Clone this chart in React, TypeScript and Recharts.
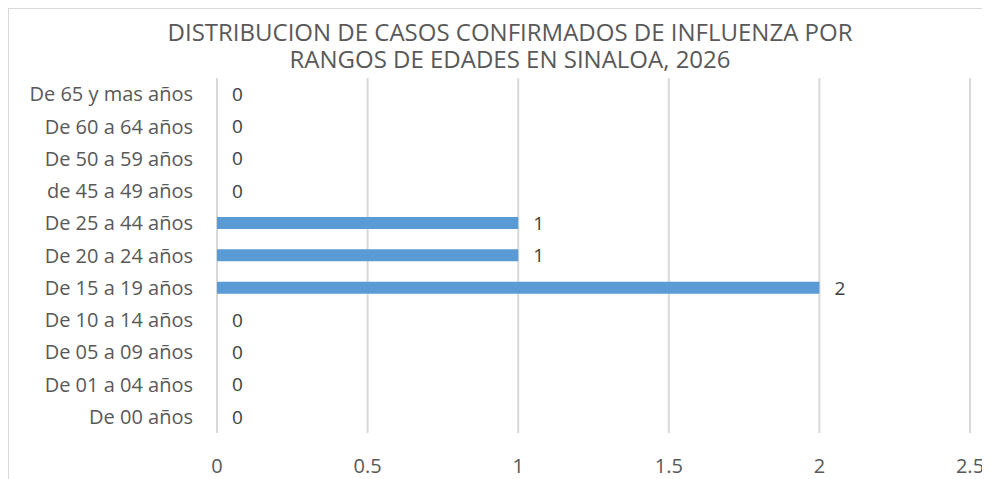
import { ComposedChart, Bar, Line, XAxis, YAxis, CartesianGrid, LabelList } from 'recharts';

const CATEGORIES = [
  'De 65 y mas años',
  'De 60 a 64 años',
  'De 50 a 59 años',
  'de 45 a 49 años',
  'De 25 a 44 años',
  'De 20 a 24 años',
  'De 15 a 19 años',
  'De 10 a 14 años',
  'De 05 a 09 años',
  'De 01 a 04 años',
  'De 00 años',
];

const CASES = [0, 0, 0, 0, 1, 1, 2, 0, 0, 0, 0];

const X_TICKS = [0, 0.5, 1, 1.5, 2, 2.5];

const TITLE_LINES = [
  'DISTRIBUCION DE CASOS CONFIRMADOS DE INFLUENZA POR',
  'RANGOS DE EDADES EN SINALOA, 2026',
];

const FONT = '"Open Sans", "Noto Sans", sans-serif';

export default function App() {
  const data = CATEGORIES.map((c, i) => ({ name: c, value: CASES[i] }));

  return (
    <div style={{ width: 982, height: 471, overflow: 'hidden', position: 'relative', fontFamily: FONT }}>
      <div
        style={{
          position: 'absolute',
          left: 0,
          top: 0,
          width: 1000,
          height: 500,
          border: '1px solid #d9d9d9',
          background: '#fff',
        }}
      />
      <div
        style={{
          position: 'absolute',
          left: 0,
          top: 10,
          width: 1004,
          textAlign: 'center',
          color: '#595959',
          fontSize: 24,
          lineHeight: '27px',
          whiteSpace: 'nowrap',
        }}
      >
        {TITLE_LINES.map((t) => (
          <div key={t}>{t}</div>
        ))}
      </div>
      <div style={{ position: 'absolute', left: 0, top: 0 }}>
        <ComposedChart
          width={982}
          height={471}
          data={data}
          layout="vertical"
          margin={{ top: 70, right: 20, left: 0, bottom: 16 }}
        >
          <CartesianGrid horizontal={false} stroke="#d9d9d9" strokeWidth={2} />
          <XAxis
            type="number"
            domain={[0, 2.5]}
            ticks={X_TICKS}
            axisLine={false}
            tickLine={false}
            tickMargin={20}
            height={30}
            tick={{ fill: '#595959', fontSize: 20, fontFamily: FONT }}
          />
          <YAxis
            type="category"
            dataKey="name"
            width={209}
            axisLine={false}
            tickLine={false}
            tickMargin={18}
            interval={0}
            tick={{ fill: '#595959', fontSize: 20, fontFamily: FONT }}
          />
          <Bar dataKey="value" fill="#5b9bd5" barSize={12} isAnimationActive={false} />
          {/* invisible series so the zero values get their labels too */}
          <Line
            dataKey="value"
            stroke="none"
            dot={false}
            activeDot={false}
            isAnimationActive={false}
          >
            <LabelList
              dataKey="value"
              position="right"
              offset={15}
              fill="#404040"
              fontSize={19}
              fontFamily={FONT}
            />
          </Line>
        </ComposedChart>
      </div>
    </div>
  );
}
